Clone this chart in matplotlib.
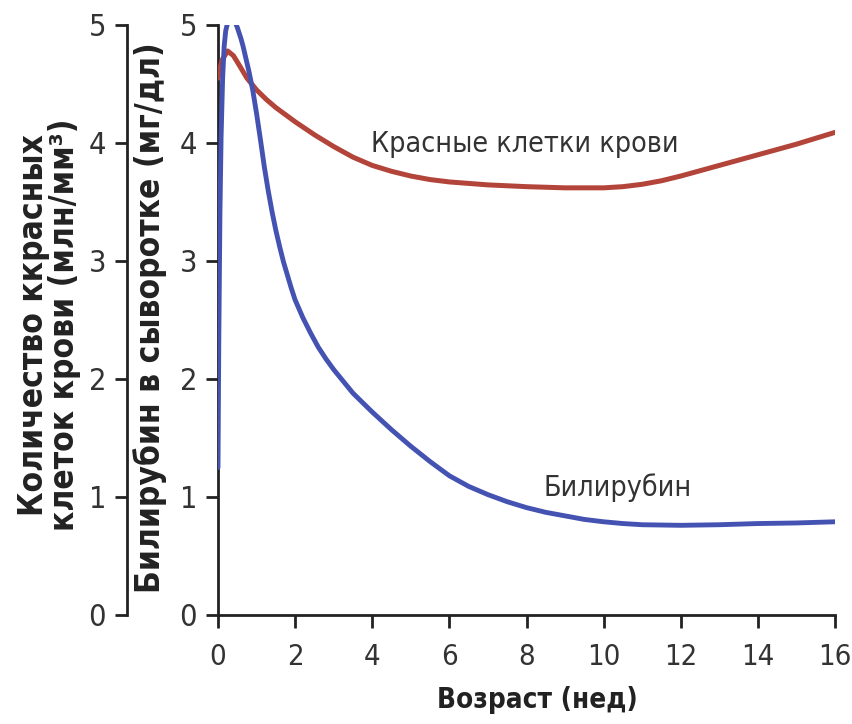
import matplotlib
matplotlib.use("Agg")
import matplotlib.pyplot as plt

# Data
weeks_rbc = [0.0, 0.1, 0.25, 0.4, 0.55, 0.75, 1.0, 1.25, 1.5, 1.75, 2.0, 2.5, 3.0, 3.5, 4.0, 4.5,
             5.0, 5.5, 6.0, 7.0, 8.0, 9.0, 10.0, 10.5, 11.0, 11.5, 12.0, 12.5, 13.0, 14.0, 15.0, 16.0]
rbc = [4.55, 4.70, 4.78, 4.74, 4.66, 4.55, 4.45, 4.37, 4.30, 4.24, 4.18, 4.07, 3.97, 3.88, 3.81, 3.76,
       3.72, 3.69, 3.67, 3.645, 3.63, 3.62, 3.62, 3.63, 3.65, 3.68, 3.72, 3.765, 3.81, 3.90, 3.99, 4.09]

weeks_bili = [0.0, 0.02, 0.05, 0.08, 0.12, 0.16, 0.2, 0.25, 0.3, 0.35, 0.4, 0.45, 0.5, 0.55, 0.6,
              0.65, 0.7, 0.8, 0.9, 1.0, 1.1, 1.2, 1.3, 1.4, 1.5, 1.6, 1.7, 1.8, 1.9, 2.0, 2.2,
              2.4, 2.6, 2.8, 3.0, 3.25, 3.5, 3.75, 4.0, 4.5, 5.0, 5.5, 6.0, 6.5, 7.0, 7.5, 8.0,
              8.5, 9.0, 9.5, 10.0, 10.5, 11.0, 12.0, 13.0, 14.0, 15.0, 16.0]
bili = [1.25, 2.3, 3.4, 4.05, 4.55, 4.82, 4.95, 5.02, 5.05, 5.06, 5.05, 5.02, 4.98, 4.93, 4.88,
        4.82, 4.75, 4.61, 4.45, 4.25, 4.03, 3.80, 3.60, 3.42, 3.26, 3.12, 2.99, 2.88, 2.77, 2.67, 2.52,
        2.39, 2.27, 2.17, 2.08, 1.98, 1.88, 1.80, 1.72, 1.57, 1.43, 1.30, 1.18, 1.09, 1.02, 0.96, 0.91,
        0.87, 0.84, 0.81, 0.79, 0.775, 0.765, 0.76, 0.765, 0.775, 0.78, 0.79]

x_ticks = [0, 2, 4, 6, 8, 10, 12, 14, 16]
y_ticks = [0, 1, 2, 3, 4, 5]

label_rbc = "Красные клетки крови"
label_bili = "Билирубин"
xlabel = "Возраст (нед)"
ylabel_bili = "Билирубин в сыворотке (мг/дл)"
ylabel_rbc = "Количество ккрасных\nклеток крови (млн/мм³)"

plt.rcParams["font.family"] = ["DejaVu Sans"]
plt.rcParams["font.stretch"] = "condensed"

W, H = 852, 724
fig = plt.figure(figsize=(W / 100, H / 100), dpi=100)
left_px, right_px, top_px, bottom_px = 218, 835, 25, 615
ax = fig.add_axes([left_px / W, 1 - bottom_px / H, (right_px - left_px) / W, (bottom_px - top_px) / H])


def ax_coords(px, py):
    return (px - left_px) / (right_px - left_px), (bottom_px - py) / (bottom_px - top_px)


ax.plot(weeks_rbc, rbc, color="#b3443a", lw=3.6, solid_capstyle="round", solid_joinstyle="round", zorder=3)
ax.plot(weeks_bili, bili, color="#4453b2", lw=3.5, solid_capstyle="round", solid_joinstyle="round", zorder=4)

ax.set_xlim(0, 16)
ax.set_ylim(0, 5)
ax.set_xticks(x_ticks)
ax.set_yticks(y_ticks)
for s in ("top", "right"):
    ax.spines[s].set_visible(False)
for s in ("left", "bottom"):
    ax.spines[s].set_linewidth(2.0)
    ax.spines[s].set_color("#222222")
ax.tick_params(axis="both", direction="out", length=9, width=2.0, color="#222222",
               labelsize=22, labelcolor="#333333")
ax.tick_params(axis="y", pad=6)
ax.tick_params(axis="x", pad=11, labelsize=21)

ax.set_xlabel(xlabel, fontsize=20, fontweight="bold", color="#222222")
ax.xaxis.label.set_verticalalignment("center")
ax.xaxis.set_label_coords(*ax_coords(537, 700))

ax.set_ylabel(ylabel_bili, fontsize=24, fontweight="bold", color="#222222")
ax.yaxis.label.set_verticalalignment("center")
ax.yaxis.label.set_horizontalalignment("center")
ax.yaxis.set_label_coords(*ax_coords(150, 318))

# Outer axis (red blood cell count)
loc = (127 - left_px) / (right_px - left_px)
sec = ax.secondary_yaxis(loc)
sec.set_yticks(y_ticks)
sec.spines["left"].set_linewidth(2.0)
sec.spines["left"].set_color("#222222")
sec.tick_params(axis="y", direction="out", length=9, width=2.0, color="#222222",
                labelsize=22, labelcolor="#333333", pad=6)
fig.text(49 / W, 1 - 325 / H, ylabel_rbc, fontsize=24, fontweight="bold", color="#222222",
         rotation=90, ha="center", va="center", linespacing=0.9, multialignment="center")

ax.text(7.96, 3.99, label_rbc, fontsize=20.5, color="#333333", ha="center", va="center")
ax.text(10.36, 1.08, label_bili, fontsize=20.5, color="#333333", ha="center", va="center")

fig.savefig("out.png", dpi=100, facecolor="white")
